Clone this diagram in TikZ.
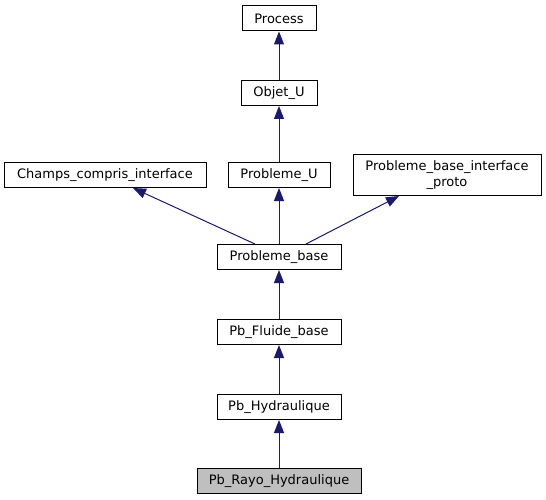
\documentclass[tikz,border=0pt]{standalone}
\usepackage{fontspec}
\setmainfont{DejaVu Sans}
\usetikzlibrary{arrows.meta}
\definecolor{edgeblue}{HTML}{191970}
\definecolor{curgray}{HTML}{BFBFBF}
\begin{document}
\begin{tikzpicture}[x=1pt,y=-1pt,
  cls/.style={draw=black, line width=1pt, fill=white, minimum height=25pt, inner sep=0pt,
    font=\fontsize{13}{15.5}\selectfont, align=center},
  cur/.style={cls, fill=curgray},
  inh/.style={draw=edgeblue, line width=1pt, -{Triangle[length=13pt,width=10pt,fill=edgeblue]}}]
\useasboundingbox (0,0) rectangle (546,500);
\node[cls, minimum width=74pt] (process) at (279,18.5) {Process};
\node[cls, minimum width=76pt] (objet) at (279,93) {Objet\_U};
\node[cls, minimum width=202pt] (champs) at (105,175) {Champs\_compris\_interface};
\node[cls, minimum width=102pt] (probu) at (279,175) {Probleme\_U};
\node[cls, minimum width=188pt, minimum height=41pt] (proto) at (447,175) {Probleme\_base\_interface\\\_proto};
\node[cls, minimum width=124pt] (pbase) at (279,257) {Probleme\_base};
\node[cls, minimum width=124pt] (fluide) at (279,332) {Pb\_Fluide\_base};
\node[cls, minimum width=124pt] (hydr) at (279,407) {Pb\_Hydraulique};
\node[cur, minimum width=164pt] (rayo) at (279,481) {Pb\_Rayo\_Hydraulique};
\draw[inh] (objet) -- (process);
\draw[inh] (probu) -- (objet);
\draw[inh] ([xshift=-24pt]pbase.north) -- ([xshift=28pt]champs.south);
\draw[inh] (pbase) -- (probu);
\draw[inh] ([xshift=27pt]pbase.north) -- ([xshift=-48pt]proto.south);
\draw[inh] (fluide) -- (pbase);
\draw[inh] (hydr) -- (fluide);
\draw[inh] (rayo) -- (hydr);
\end{tikzpicture}
\end{document}
